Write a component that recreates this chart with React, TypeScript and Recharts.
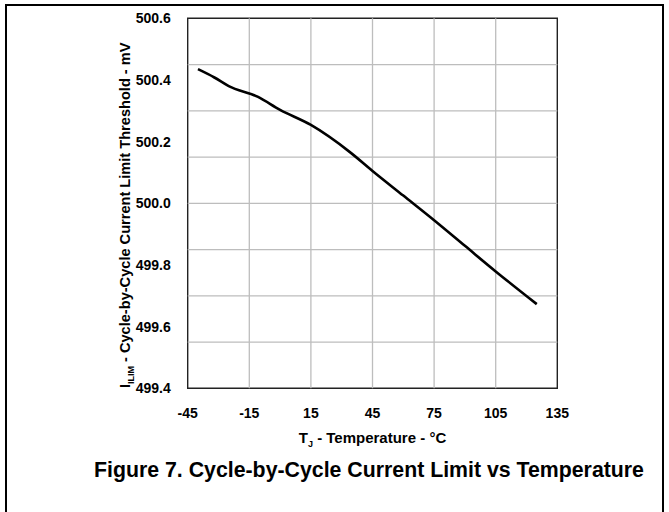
import React from 'react';
import { LineChart, Line, XAxis, YAxis, ReferenceLine, ReferenceArea, Label } from 'recharts';

const temperatures = [-40, -32, -25, -11, 0, 15, 34, 45, 60, 75, 90, 105, 125];
const thresholds = [500.435, 500.408, 500.38, 500.346, 500.303, 500.254, 500.166, 500.105, 500.025, 499.945, 499.862, 499.779, 499.673];
const xTicks = [-45, -15, 15, 45, 75, 105, 135];
const yTicks = [499.4, 499.6, 499.8, 500.0, 500.2, 500.4, 500.6];
const yGrid = [499.55, 499.7, 499.85, 500.0, 500.15, 500.3, 500.45];
const xGrid = [-15, 15, 45, 75, 105];

const data = temperatures.map((t, i) => ({ t, v: thresholds[i] }));

const FONT = '"Liberation Sans", Arial, Helvetica, sans-serif';

const XTitle = (props: any) => {
  const vb = props.viewBox || {};
  const cx = vb.x + vb.width / 2;
  const y = vb.y + 55;
  return (
    <g>
      <text x={cx} y={y} textAnchor="middle" fontFamily={FONT} fontWeight="bold" fontSize={15} fill="#000">
        <tspan>T</tspan>
        <tspan fontSize={9} dy={4}>J</tspan>
        <tspan dy={-4}> - Temperature - °C</tspan>
      </text>
      <text x={369} y={476.5} textAnchor="middle" fontFamily={FONT} fontWeight="bold" fontSize={21.3} fill="#000">
        Figure 7. Cycle-by-Cycle Current Limit vs Temperature
      </text>
    </g>
  );
};

const YTitle = (props: any) => {
  const vb = props.viewBox || {};
  const x = 130.5;
  const cy = vb.y + vb.height / 2 + 12;
  return (
    <text x={x} y={cy} transform={`rotate(-90, ${x}, ${cy})`} textAnchor="middle" fontFamily={FONT} fontWeight="bold" fontSize={14.6} fill="#000">
      <tspan>I</tspan>
      <tspan fontSize={9} dy={4}>ILIM</tspan>
      <tspan dy={-4}> - Cycle-by-Cycle Current Limit Threshold - mV</tspan>
    </text>
  );
};

export default function App() {
  return (
    <div style={{ position: 'fixed', left: 0, top: 0, width: 669, height: 512, overflow: 'hidden', background: '#fff' }}>
      <div
        style={{
          position: 'absolute',
          left: 5,
          top: 4,
          width: 655,
          height: 540,
          borderLeft: '2px solid #000',
          borderTop: '2px solid #000',
          borderRight: '2px solid #000',
        }}
      />
      <div style={{ position: 'absolute', left: 0, top: 0 }}>
        <LineChart
          width={669}
          height={512}
          data={data}
          margin={{ top: 18.3, right: 111.7, bottom: 93.7, left: 127.7 }}
        >
          <XAxis
            dataKey="t"
            type="number"
            domain={[-45, 135]}
            ticks={xTicks}
            interval={0}
            axisLine={false}
            tickLine={false}
            tickSize={0}
            tickMargin={20}
            height={30}
            tick={{ fontFamily: FONT, fontWeight: 'bold', fontSize: 14, fill: '#000' }}
          >
            <Label content={XTitle} />
          </XAxis>
          <YAxis
            type="number"
            domain={[499.4, 500.6]}
            ticks={yTicks}
            interval={0}
            width={60}
            axisLine={false}
            tickLine={false}
            tickSize={0}
            tickMargin={17}
            tickFormatter={(v: number) => v.toFixed(1)}
            tick={{ fontFamily: FONT, fontWeight: 'bold', fontSize: 14, fill: '#000' }}
          >
            <Label content={YTitle} />
          </YAxis>
          {yGrid.map((g) => (
            <ReferenceLine key={'h' + g} y={g} stroke="#bdbdbd" strokeWidth={1.3} />
          ))}
          {xGrid.map((g) => (
            <ReferenceLine key={'v' + g} x={g} stroke="#bdbdbd" strokeWidth={1.3} />
          ))}
          <ReferenceArea x1={-45} x2={135} y1={499.4} y2={500.6} fill="none" fillOpacity={0} stroke="#222" strokeWidth={1.4} />
          <Line
            type="monotone"
            dataKey="v"
            stroke="#000"
            strokeWidth={2.6}
            dot={false}
            activeDot={false}
            isAnimationActive={false}
          />
        </LineChart>
      </div>
    </div>
  );
}
